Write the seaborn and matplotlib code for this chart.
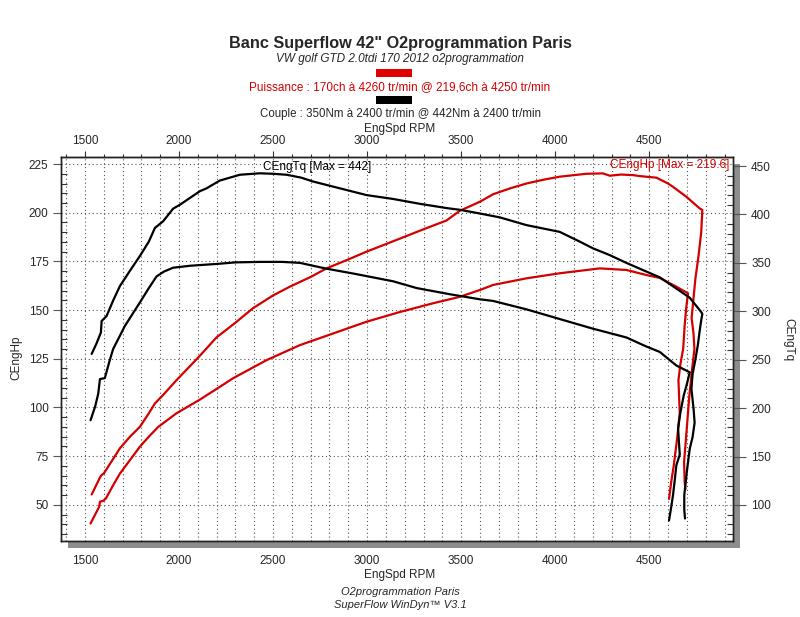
import pandas as pd
import seaborn as sns
import matplotlib.pyplot as plt
from matplotlib.patches import Rectangle
from matplotlib.ticker import MultipleLocator, FixedLocator

# Puissance run 1 (CEngHp, max 219.6) - rpm / hp, incl. the fall-back at the end
hp1_rpm = [1536, 1560, 1580, 1589, 1600, 1640, 1686, 1740, 1792, 1840, 1872, 1916, 1987,
           2111, 2200, 2300, 2394, 2500, 2589, 2700, 2784, 2900, 2997, 3156, 3300, 3422,
           3493, 3599, 3670, 3760, 3847, 3940, 4024, 4166, 4254, 4290, 4350, 4414, 4450,
           4538, 4600, 4626, 4697, 4768, 4782, 4776, 4762, 4745, 4735, 4725, 4735, 4740,
           4728, 4712, 4700, 4685, 4688, 4692]
hp1_val = [55.3, 60, 64, 65.3, 66, 72, 79, 85, 90, 97, 102, 106.4, 114,
           126.5, 136, 143.5, 151, 157.5, 162, 167, 171.4, 176, 180, 186, 191.5, 196,
           201, 205.6, 209.5, 212.5, 215, 217, 218.5, 220, 220.2, 219, 219.6, 219.3, 218.8,
           218, 215, 213.3, 208.2, 202.2, 201.4, 190, 178, 166, 156, 146, 138, 130,
           120, 105, 90, 72, 62, 58]

# Puissance run 2 (max 170)
hp2_rpm = [1530, 1576, 1580, 1598, 1612, 1650, 1686, 1740, 1792, 1840, 1890, 1987, 2111,
           2208, 2288, 2466, 2643, 2820, 2997, 3174, 3351, 3493, 3599, 3670, 3847, 4024,
           4237, 4378, 4485, 4556, 4644, 4706, 4697, 4688, 4680, 4665, 4655, 4662, 4648,
           4630, 4617, 4605]
hp2_val = [40.4, 49, 51.6, 52, 53.3, 60, 66, 73, 79.8, 85, 90, 97, 104,
           110, 115, 124.3, 132, 138, 144, 149, 153.5, 156.8, 160.3, 162.9, 166.3, 168.9,
           171.4, 170.6, 168, 166.5, 162, 158.6, 151.7, 142, 130, 122, 114, 97, 84,
           70, 62, 53]

# Couple run 1 (CEngTq, max 442)
tq1_rpm = [1536, 1560, 1585, 1589, 1615, 1650, 1686, 1740, 1792, 1840, 1872, 1916, 1969,
           2005, 2058, 2111, 2147, 2217, 2324, 2430, 2500, 2572, 2650, 2713, 2855, 2997,
           3138, 3280, 3422, 3493, 3599, 3705, 3847, 4024, 4130, 4201, 4290, 4378, 4485,
           4556, 4625, 4715, 4777, 4782, 4777, 4768, 4758, 4745, 4730, 4724, 4735, 4741,
           4730, 4715, 4700, 4686, 4686, 4690]
tq1_val = [256, 266, 278, 290, 295, 311, 326, 342, 357, 372, 386, 393, 406,
           410, 417, 424, 427, 435, 441, 442.5, 442, 441, 438, 434, 427, 420,
           416, 411, 406.6, 404.8, 401, 397, 389, 382, 372, 365, 358, 350, 341,
           335, 326, 314, 299, 297, 292, 280, 265, 250, 235, 220, 200, 185,
           170, 158, 135, 110, 95, 86]

# Couple run 2 (max 350)
tq2_rpm = [1530, 1555, 1571, 1580, 1606, 1630, 1650, 1713, 1792, 1840, 1881, 1920, 1969,
           2058, 2208, 2300, 2430, 2550, 2643, 2784, 2926, 3138, 3263, 3440, 3599, 3670,
           3847, 4024, 4201, 4378, 4480, 4556, 4644, 4715, 4700, 4683, 4665, 4653, 4662,
           4644, 4635, 4626, 4615, 4605]
tq2_val = [187.5, 202, 215, 230, 231, 248, 261, 285, 309, 324, 336, 341, 345,
           347, 349, 350.5, 351, 351, 350, 344, 339, 331, 324, 317.6, 312.4, 310.7,
           302, 292, 282, 273, 264, 258, 244, 237, 225, 213, 195, 179, 152,
           141, 125, 110, 96, 84]

rpm_ticks = [1500, 2000, 2500, 3000, 3500, 4000, 4500]

RED = "#d40000"
GRID = dict(color="#555555", linestyle=(0, (1, 2.5)), linewidth=0.8)

sns.set_style("white")
plt.rcParams["font.family"] = ["Liberation Sans", "DejaVu Sans"]

fig = plt.figure(figsize=(8, 6.17), dpi=100)

# drop shadow behind the plot frame
fig.patches.append(Rectangle((0.085, 0.1118), 0.84, 0.6224, transform=fig.transFigure,
                             facecolor="#8c8c8c", edgecolor="none", zorder=-5))

ax = fig.add_axes([0.07625, 0.1232, 0.84, 0.6223])
ax.set_facecolor("white")
ax2 = ax.twinx()

hp1 = pd.DataFrame({"rpm": hp1_rpm, "hp": hp1_val})
hp2 = pd.DataFrame({"rpm": hp2_rpm, "hp": hp2_val})
tq1 = pd.DataFrame({"rpm": tq1_rpm, "tq": tq1_val})
tq2 = pd.DataFrame({"rpm": tq2_rpm, "tq": tq2_val})

for df in (hp1, hp2):
    sns.lineplot(data=df, x="rpm", y="hp", sort=False, estimator=None,
                 color=RED, linewidth=1.6, ax=ax)
for df in (tq1, tq2):
    sns.lineplot(data=df, x="rpm", y="tq", sort=False, estimator=None,
                 color="black", linewidth=1.6, ax=ax2)

ax.set_xlim(1373, 4945)
ax.set_ylim(31.4, 228.6)
ax2.set_ylim(62.8, 459.3)

ax.xaxis.set_major_locator(FixedLocator(rpm_ticks))
ax.xaxis.set_minor_locator(MultipleLocator(100))
ax.yaxis.set_major_locator(MultipleLocator(25))
ax.yaxis.set_minor_locator(MultipleLocator(5))
ax2.yaxis.set_major_locator(MultipleLocator(50))
ax2.yaxis.set_minor_locator(MultipleLocator(10))

ax.grid(True, which="both", axis="x", **GRID)
ax.grid(True, which="major", axis="y", **GRID)
ax.set_axisbelow(True)

ax.set_xlabel("")
ax.set_ylabel("")
ax2.set_ylabel("")

ax.tick_params(axis="x", which="major", direction="out", length=6.5, width=0.8,
               color="#555555", labelsize=8.5, pad=3.5)
ax.tick_params(axis="x", which="minor", bottom=False)
ax.tick_params(axis="y", which="major", direction="out", length=6, width=0.8,
               color="#555555", labelsize=8.5, pad=3)
ax.tick_params(axis="y", which="minor", direction="in", length=4, width=0.8, color="#333333")
ax2.tick_params(axis="y", which="major", direction="out", length=9, width=0.8,
                color="#555555", labelsize=8.5, pad=4)
ax2.tick_params(axis="y", which="minor", direction="in", length=4, width=0.8, color="#333333")

# top rpm scale
top = ax.secondary_xaxis("top")
top.set_xticks(rpm_ticks)
top.set_xticks(range(1400, 4950, 100), minor=True)
top.tick_params(axis="x", which="major", direction="out", length=4, width=0.8,
                color="#333333", labelsize=8.5, pad=3)
top.tick_params(axis="x", which="minor", direction="out", length=2.5, width=0.8,
                color="#333333", labeltop=False)
top.spines["top"].set_color("#222222")

for a in (ax, ax2):
    for s in a.spines.values():
        s.set_color("#222222")
        s.set_linewidth(1.0)

ax.text(0.3006, 0.974, "CEngTq [Max = 442]", transform=ax.transAxes,
        ha="left", va="center", fontsize=8.5, color="black")
ax.text(0.994, 0.979, "CEngHp [Max = 219.6]", transform=ax.transAxes,
        ha="right", va="center", fontsize=8.5, color=RED)

# header
fig.text(0.5, 0.930, 'Banc Superflow 42" O2programmation Paris', ha="center", va="center",
         fontsize=11.7, fontweight="bold")
fig.text(0.5, 0.905, "VW golf GTD 2.0tdi 170 2012 o2programmation", ha="center",
         va="center", fontsize=8.5, style="italic")
fig.patches.append(Rectangle((0.47, 0.8752), 0.045, 0.013, transform=fig.transFigure,
                             facecolor="#e00000", edgecolor="none"))
fig.text(0.5, 0.859, "Puissance : 170ch à 4260 tr/min @ 219,6ch à 4250 tr/min",
         ha="center", va="center", fontsize=8.5, color=RED)
fig.patches.append(Rectangle((0.47, 0.8314), 0.045, 0.013, transform=fig.transFigure,
                             facecolor="black", edgecolor="none"))
fig.text(0.5, 0.8152, "Couple : 350Nm à 2400 tr/min @ 442Nm à 2400 tr/min",
         ha="center", va="center", fontsize=8.3)
fig.text(0.5, 0.791, "EngSpd RPM", ha="center", va="center", fontsize=8.5)

# axis titles and footer
fig.text(0.02, 0.42, "CEngHp", ha="center", va="center", rotation=90, fontsize=8.5)
fig.text(0.985, 0.449, "CEngTq", ha="center", va="center", rotation=270, fontsize=8.5)
fig.text(0.5, 0.068, "EngSpd RPM", ha="center", va="center", fontsize=8.5)
fig.text(0.5, 0.0405, "O2programmation Paris", ha="center", va="center",
         fontsize=8, style="italic")
fig.text(0.5, 0.0194, "SuperFlow WinDyn™ V3.1", ha="center", va="center",
         fontsize=8, style="italic")

fig.savefig("out.png", dpi=100, facecolor="white")
